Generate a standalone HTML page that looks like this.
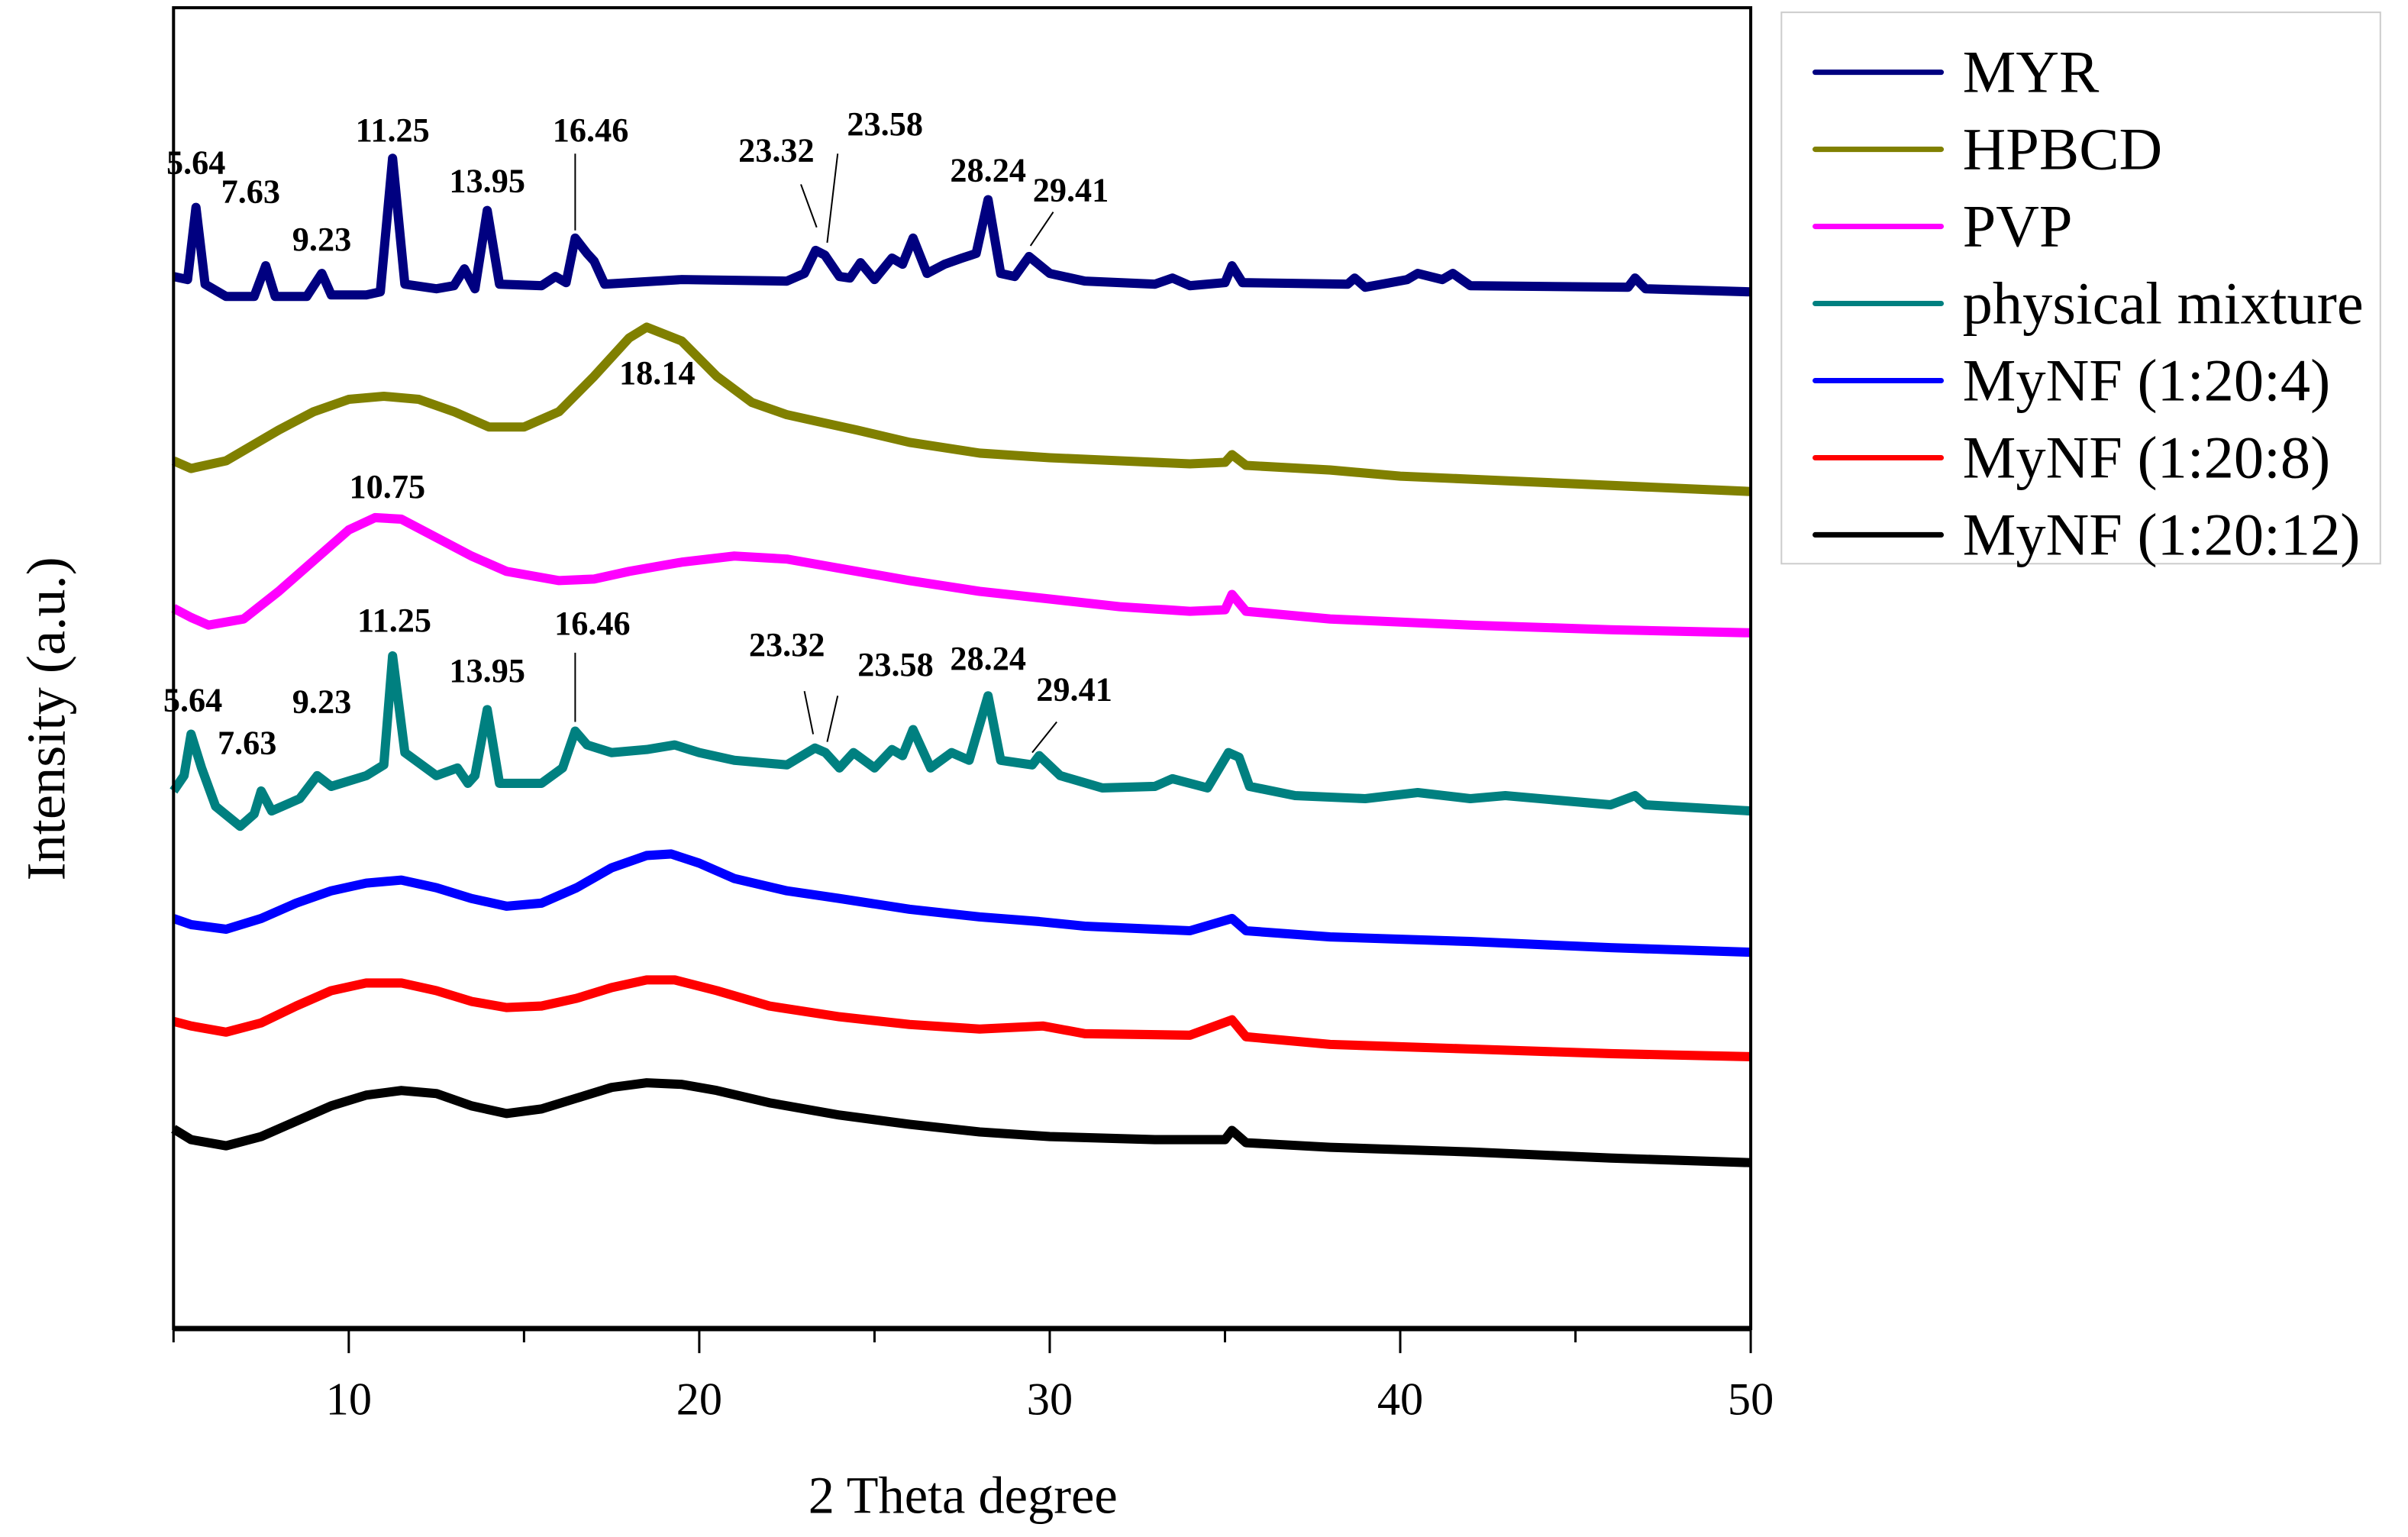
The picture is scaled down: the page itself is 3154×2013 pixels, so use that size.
<!DOCTYPE html>
<html><head><meta charset="utf-8"><style>
html,body{margin:0;padding:0;background:#fff}
svg{display:block}
text{font-family:"Liberation Serif",serif}
</style></head><body>
<svg id="chart" width="3154" height="2013" viewBox="0 0 1568 1000.7" xmlns="http://www.w3.org/2000/svg">
<rect x="0" y="0" width="1568" height="1001" fill="#fff"/>
<g id="series"></g>
<g id="annotations"></g>
<g id="axes"></g>
<g id="legend"></g>
</svg>
<script>
// x values (2θ, degrees) and intensity values (a.u., offset-stacked)
const myrX=[5,5.4,5.64,5.9,6.5,7.3,7.63,7.9,8.8,9.23,9.5,10.5,10.9,11.25,11.6,12.5,13,13.3,13.6,13.95,14.3,15.5,15.9,16.2,16.46,16.8,17,17.3,19.5,22.5,23,23.32,23.58,24,24.3,24.6,25,25.5,25.8,26.1,26.5,27,27.5,27.9,28.24,28.6,29,29.41,30,31,33,33.5,34,35,35.2,35.5,38.5,38.7,39,40.2,40.5,41.2,41.5,42,46.5,46.7,47,50];
const myrY=[685,683,730,680,672,672,692,672,672,687,673,673,675,762,680,677,679,690,677,728,680,679,685,681,710,700,695,680,683,682,687,702,699,685,684,694,683,697,693,710,687,693,697,700,735,687,685,698,687,682,680,684,679,681,692,681,680,684,678,683,687,683,687,679,678,684,677,675];
const hpX=[5,5.5,6.5,8,9,10,11,12,13,14,15,16,17,18,18.5,19.5,20.5,21.5,22.5,23.5,24.5,26,28,30,32,34,35,35.2,35.6,38,40,42,45,50];
const hpY=[565,560,565,585,597,605,607,605,597,587,587,597,620,645,652,643,620,603,595,590,585,577,570,567,565,563,564,569,562,559,555,553,550,545];
const pvpX=[5,5.5,6,7,8,9,10,10.75,11.5,12.5,13.5,14.5,16,17,18,19.5,21,22.5,24,26,28,30,32,34,35,35.2,35.6,38,42,46,50];
const pvpY=[469,463,458,462,480,500,520,528,527,515,503,493,487,488,493,499,503,501,495,487,480,475,470,467,468,478,467,462,458,455,453];
const pmX=[5,5.3,5.5,5.8,6.2,6.9,7.3,7.5,7.8,8.6,9.1,9.5,10.5,11,11.25,11.6,12.5,13.1,13.4,13.6,13.95,14.3,15.5,16.1,16.46,16.8,17.5,18.5,19.3,20,21,22.5,23.3,23.6,24,24.4,25,25.5,25.8,26.1,26.6,27.2,27.7,28.24,28.6,29.5,29.7,30.3,31.5,33,33.5,34.5,35.1,35.4,35.7,37,39,40.5,42,43,46,46.7,47,50];
const pmY=[350,360,387,365,340,327,335,350,337,345,360,353,360,367,438,375,360,365,355,360,403,355,355,365,389,380,375,377,380,375,370,367,378,375,365,375,365,377,373,390,365,375,370,412,370,367,373,360,352,353,358,352,375,372,353,347,345,349,345,347,341,347,341,337];
const nf4X=[5,5.5,6.5,7.5,8.5,9.5,10.5,11.5,12.5,13.5,14.5,15.5,16.5,17.5,18.5,19.2,20,21,22.5,24,26,28,29.7,31,34,35.2,35.6,38,42,46,50];
const nf4Y=[267,263,260,267,277,285,290,292,287,280,275,277,287,300,308,309,303,293,285,280,273,268,265,262,259,267,259,255,252,248,245];
const nf8X=[5,5.5,6.5,7.5,8.5,9.5,10.5,11.5,12.5,13.5,14.5,15.5,16.5,17.5,18.5,19.3,20.5,22,24,26,28,29.8,31,34,35.2,35.6,38,42,46,50];
const nf8Y=[200,197,193,199,210,220,225,225,220,213,209,210,215,222,227,227,220,210,203,198,195,197,192,191,201,190,185,182,179,177];
const nf12X=[5,5.5,6.5,7.5,8.5,9.5,10.5,11.5,12.5,13.5,14.5,15.5,16.5,17.5,18.5,19.5,20.5,22,24,26,28,30,33,35,35.2,35.6,38,42,46,50];
const nf12Y=[130,123,119,125,135,145,152,155,153,145,140,143,150,157,160,159,155,147,139,133,128,125,123,123,129,121,118,115,111,108];
const seriesNames=["MYR","HPBCD","PVP","physical mixture","MyNF (1:20:4)","MyNF (1:20:8)","MyNF (1:20:12)"];
const seriesColors=["#000080","#808000","#ff00ff","#008080","#0000ff","#ff0000","#000000"];
const xTicks=[10,20,30,40,50];
const xMinor=[5,15,25,35,45];
// peak annotations
const annMyrLabels=["5.64","7.63","9.23","11.25","13.95","16.46","23.32","23.58","28.24","29.41"];
const annMyrTextX=[5.64,7.2,9.23,11.25,13.95,16.9,22.2,25.3,28.24,30.6];
const annMyrTextY=[752,733,702,773,740,773,760,777,747,734];
const annPmTextX=[5.55,7.1,9.23,11.3,13.95,16.95,22.5,25.6,28.24,30.7];
const annPmTextY=[402,374,401,454,421,452,438,425,429,409];

const L=113,R=1140,T=5,B=865;
const xs=v=>L+(v-5)/(50-5)*(R-L);
const ys=v=>B-(v/860)*(B-T);
const NS="http://www.w3.org/2000/svg";
function mk(tag,attrs,parent){const e=document.createElementNS(NS,tag);for(const k in attrs)e.setAttribute(k,attrs[k]);parent.appendChild(e);return e;}

const sg=document.getElementById('series');
const allX=[myrX,hpX,pvpX,pmX,nf4X,nf8X,nf12X];
const allY=[myrY,hpY,pvpY,pmY,nf4Y,nf8Y,nf12Y];
const slugs=["myr","hpbcd","pvp","physical-mixture","mynf-1-20-4","mynf-1-20-8","mynf-1-20-12"];
allX.forEach((xa,i)=>{
  const d=xa.map((x,j)=>(j?'L':'M')+xs(x).toFixed(2)+','+ys(allY[i][j]).toFixed(2)).join(' ');
  const p=mk('path',{d:d,fill:'none',stroke:seriesColors[i],'stroke-width':6,'stroke-linejoin':'round'},sg);
  
  
});

const ag=document.getElementById('annotations');
function ann(labels,tx,ty,size,prefix){
  labels.forEach((lab,i)=>{
    const t=mk('text',{x:xs(tx[i]),y:ys(ty[i]),'text-anchor':'middle','font-size':size,'font-weight':'bold',fill:'#000'},ag);
    t.textContent=lab;
    
    
  });
}
ann(annMyrLabels,annMyrTextX,annMyrTextY,22,'myr');
ann(annMyrLabels,annPmTextX,annPmTextY,22,'pm');
ann(["18.14"],[18.8],[615],22,'hpbcd');
ann(["10.75"],[11.1],[541],22,'pvp');
const leadMyr=[[16.46,765,16.46,715],[22.9,745,23.35,717],[23.95,765,23.65,707],[30.1,727,29.45,705]];
const leadPm=[[16.46,440,16.46,395],[23.0,415,23.25,387],[23.95,412,23.65,382],[30.2,395,29.5,375]];
leadMyr.concat(leadPm).forEach(l=>{
  const e=mk('line',{x1:xs(l[0]),y1:ys(l[1]),x2:xs(l[2]),y2:ys(l[3]),stroke:'#000','stroke-width':1},ag);
  
  
});

const ax=document.getElementById('axes');
let e;
e=mk('rect',{x:L,y:T,width:R-L,height:B-T,fill:'none',stroke:'#000','stroke-width':2},ax);


e=mk('line',{x1:L,y1:B,x2:R,y2:B,stroke:'#000','stroke-width':3.5},ax);


xTicks.forEach(v=>{
  e=mk('line',{x1:xs(v),y1:B,x2:xs(v),y2:B+16,stroke:'#000','stroke-width':1.5},ax);
  
  
  e=mk('text',{x:xs(v),y:921,'text-anchor':'middle','font-size':30,fill:'#000'},ax);
  e.textContent=v;
  
  
});
xMinor.forEach(v=>{
  e=mk('line',{x1:xs(v),y1:B,x2:xs(v),y2:B+9,stroke:'#000','stroke-width':1.5},ax);
  
  
});
e=mk('text',{x:627,y:985,'text-anchor':'middle','font-size':34,fill:'#000'},ax);
e.textContent='2 Theta degree';


e=mk('text',{x:0,y:0,'text-anchor':'middle','font-size':36,fill:'#000',transform:'translate(42,468) rotate(-90)'},ax);
e.textContent='Intensity (a.u.)';



const lg=document.getElementById('legend');
e=mk('rect',{x:1160,y:8,width:390,height:359,fill:'#fff',stroke:'#ccc','stroke-width':1},lg);


seriesNames.forEach((n,i)=>{
  const y=47+50.2*i;
  e=mk('line',{x1:1182,y1:y,x2:1264,y2:y,stroke:seriesColors[i],'stroke-width':3.5,'stroke-linecap':'round'},lg);
  
  
  e=mk('text',{x:1278,y:y+13,'font-size':39,fill:'#000'},lg);
  e.textContent=n;
  
  
});
</script>
</body></html>
